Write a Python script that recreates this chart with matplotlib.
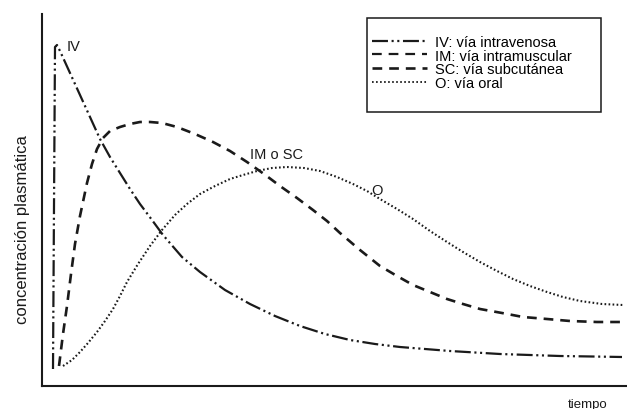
import matplotlib
matplotlib.use("Agg")
import matplotlib.pyplot as plt
from matplotlib.patches import Rectangle

plt.rcParams['font.family'] = ['Liberation Sans', 'DejaVu Sans']
plt.rcParams['lines.scale_dashes'] = False

# tiempo / concentración (unidades arbitrarias)
iv_t = [11, 12, 13, 15, 18, 28, 38, 48, 58, 68, 78, 88, 98, 110, 121, 140, 158, 183, 208,
        233, 258, 283, 308, 333, 358, 383, 408, 433, 458, 488, 518, 550, 580]
iv_c = [17, 180, 339, 341, 335, 313, 291, 269, 247, 229, 213, 197, 182, 166, 151, 129, 114, 96, 82,
        70, 60, 52, 46, 42, 39, 37, 35, 33.5, 32, 31, 30, 29.5, 29]

sc_t = [17, 21, 25, 29, 33, 38, 45, 50, 55, 61, 68, 78, 88, 98, 108, 120, 135, 153, 171, 188,
        205, 222, 238, 255, 271, 285, 298, 318, 338, 355, 371, 388, 405, 421, 438, 460, 481,
        505, 528, 555, 580]
sc_c = [20, 52, 80, 112, 142, 170, 203, 222, 237, 248, 255, 259, 262, 264, 264, 263, 259, 252, 244, 235,
        224, 212, 200, 188, 176, 165, 153, 136, 120, 110, 101, 94, 87, 82, 77, 73, 69,
        67, 65, 64, 64]

o_t = [21, 30, 38, 46, 55, 63, 71, 78, 85, 96, 108, 120, 133, 145, 158, 173, 188, 201, 215, 230,
       245, 262, 278, 295, 311, 325, 338, 355, 371, 388, 405, 421, 438, 455, 471, 488, 505, 521,
       538, 560, 581]
o_c = [20, 26, 34, 43, 54, 65, 77, 90, 104, 122, 140, 156, 171, 182, 192, 200, 207, 211, 215, 218,
       219, 218, 215, 209, 202, 195, 187, 177, 167, 155, 144, 134, 124, 115, 107, 100, 94, 89,
       85, 82, 81]

labels = ["IV: vía intravenosa", "IM: vía intramuscular", "SC: vía subcutánea", "O: vía oral"]

col = "#1a1a1a"
iv_style = (0, (11.5, 2.6, 1.5, 2.6, 1.5, 2.6))
dash_style = (0, (7, 5))
dot_style = (0, (1.2, 1.7))

fig = plt.figure(figsize=(6.27, 4.10), dpi=100)
ax = fig.add_axes([42 / 627, 23 / 410, 585 / 627, 372 / 410])

ax.plot(iv_t, iv_c, color=col, lw=1.6, linestyle=iv_style)
ax.plot(sc_t, sc_c, color=col, lw=1.9, linestyle=dash_style)
ax.plot(o_t, o_c, color=col, lw=1.5, linestyle=dot_style)

ax.set_xlim(0, 585)
ax.set_ylim(0, 372)
ax.set_xticks([])
ax.set_yticks([])
for s in ["top", "right"]:
    ax.spines[s].set_visible(False)
for s in ["left", "bottom"]:
    ax.spines[s].set_linewidth(1.5)
    ax.spines[s].set_color(col)

ax.text(25, 340, "IV", fontsize=10.5, ha="left", va="center", color=col)
ax.text(234, 232, "IM o SC", fontsize=10.5, ha="center", va="center", color=col)
ax.text(335, 196, "O", fontsize=10.5, ha="center", va="center", color=col)

fig.text(23 / 627, 1 - 230 / 410, "concentración plasmática", rotation=90,
         fontsize=12, ha="center", va="center", color=col)
fig.text(588 / 627, 1 - 405 / 410, "tiempo", fontsize=9.5, ha="center", va="center", color=col)

# leyenda
h_iv = plt.Line2D([], [], color=col, lw=1.6, linestyle=iv_style)
h_im = plt.Line2D([], [], color=col, lw=1.6, linestyle=dash_style)
h_sc = plt.Line2D([], [], color=col, lw=1.9, linestyle=dash_style)
h_o = plt.Line2D([], [], color=col, lw=1.3, linestyle=dot_style)
fig.patches.append(Rectangle((367 / 627, 1 - 113 / 410), 234 / 627, 94 / 410,
                             transform=fig.transFigure, fill=False, lw=1.1, ec=col))
fig.legend([h_iv, h_im, h_sc, h_o], labels, loc="upper left",
           bbox_to_anchor=(372 / 627, 1 - 36 / 410), frameon=False, fontsize=10.5,
           handlelength=3.8, handletextpad=0.55, labelspacing=-0.03,
           borderpad=0, borderaxespad=0)

fig.savefig("out.png", dpi=100)
